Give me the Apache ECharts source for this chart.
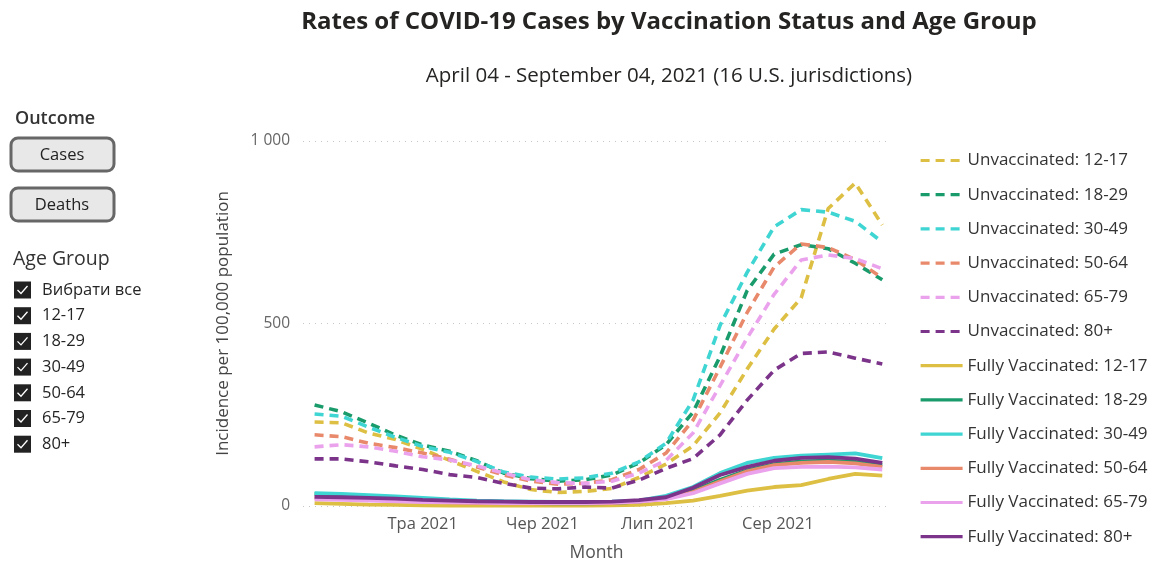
<!DOCTYPE html>
<html>
<head>
<meta charset="utf-8">
<script src="https://cdn.jsdelivr.net/npm/echarts@6/dist/echarts.min.js"></script>
<style>
html,body{margin:0;padding:0;background:#fff;}
#chart{width:1170px;height:578px;}
</style>
</head>
<body>
<div id="chart"></div>
<script>
// ---- data ----
const weeks = ['2021-04-03','2021-04-10','2021-04-17','2021-04-24','2021-05-01','2021-05-08','2021-05-15','2021-05-22','2021-05-29','2021-06-05','2021-06-12','2021-06-19','2021-06-26','2021-07-03','2021-07-10','2021-07-17','2021-07-24','2021-07-31','2021-08-07','2021-08-14','2021-08-21','2021-08-28'];
const ageGroups = ['12-17','18-29','30-49','50-64','65-79','80+'];
const colors = ['#DDBF43','#1A9B6C','#3FD5D3','#E9896B','#EBA2EC','#7B348A'];

const unvac_12_17 = [230,228,200,182,155,125,95,66,45,37,40,48,78,115,165,255,375,485,570,815,885,770];
const unvac_18_29 = [277,258,227,194,167,150,124,90,75,68,72,85,118,168,257,410,590,690,716,705,665,620];
const unvac_30_49 = [252,246,216,188,163,147,122,93,79,74,77,90,121,172,290,495,640,765,812,805,780,723];
const unvac_50_64 = [195,190,172,160,145,128,107,85,68,60,62,72,100,145,235,380,530,655,718,708,675,625];
const unvac_65_79 = [162,168,162,150,135,126,110,90,72,64,62,68,90,125,200,330,460,580,674,688,678,650];
const unvac_80 = [129,129,121,110,100,86,78,62,49,47,52,49,71,103,130,195,290,372,418,422,405,389];

const full_12_17 = [8,6,4,3,2,1,1,1,1,1,1,2,3,8,15,28,42,52,57,74,88,83];
const full_18_29 = [33,30,27,23,18,14,11,9,8,7,7,8,12,22,42,72,98,115,122,124,121,112];
const full_30_49 = [35,33,30,26,22,18,15,13,12,11,11,12,15,28,52,90,118,132,138,141,144,131];
const full_50_64 = [22,20,18,15,12,10,8,7,7,7,7,8,12,20,38,68,95,112,118,121,117,107];
const full_65_79 = [18,17,15,13,11,10,9,8,8,8,8,9,12,19,35,62,88,104,107,108,106,100];
const full_80 = [25,24,22,20,17,15,13,12,11,11,11,12,16,24,50,85,107,124,132,134,130,118];

const unvacSeries = [unvac_12_17,unvac_18_29,unvac_30_49,unvac_50_64,unvac_65_79,unvac_80];
const fullSeries = [full_12_17,full_18_29,full_30_49,full_50_64,full_65_79,full_80];

const monthTicks = ['2021-05-01','2021-06-01','2021-07-01','2021-08-01'];
const monthLabels = ['Тра 2021','Чер 2021','Лип 2021','Сер 2021'];
const yTicks = [0,500,1000];
const checkboxLabels = ['Вибрати все'].concat(ageGroups);

// ---- helpers ----
function ts(s){ const p=s.split('-').map(Number); return Date.UTC(p[0],p[1]-1,p[2]); }
const monthTs = monthTicks.map(ts);
const FONT = '"Open Sans", "Noto Sans", sans-serif';

const series = [];
unvacSeries.forEach((vals,i)=>{
  series.push({
    name:'Unvaccinated: '+ageGroups[i], type:'line', symbol:'none', smooth:false,
    data: weeks.map((w,k)=>[ts(w), vals[k]]),
    lineStyle:{color:colors[i], width:3.6, type:[9,6]},
    itemStyle:{color:colors[i]}, z:3
  });
});
fullSeries.forEach((vals,i)=>{
  series.push({
    name:'Fully Vaccinated: '+ageGroups[i], type:'line', symbol:'none', smooth:false,
    data: weeks.map((w,k)=>[ts(w), vals[k]]),
    lineStyle:{color:colors[i], width:3.8, type:'solid'},
    itemStyle:{color:colors[i]}, z:2
  });
});

// ---- left panel graphics ----
const graphic = [
  {type:'text', left:15, top:110, style:{text:'Outcome', font:'600 18px '+FONT, fill:'#333'}},
  {type:'rect', shape:{x:11,y:138,width:103,height:33,r:7}, style:{fill:'#e8e8e8', stroke:'#676767', lineWidth:3}},
  {type:'text', x:62, y:155, style:{text:'Cases', align:'center', verticalAlign:'middle', font:'16.5px '+FONT, fill:'#222'}},
  {type:'rect', shape:{x:11,y:188,width:103,height:33,r:7}, style:{fill:'#e8e8e8', stroke:'#676767', lineWidth:3}},
  {type:'text', x:62, y:205, style:{text:'Deaths', align:'center', verticalAlign:'middle', font:'16.5px '+FONT, fill:'#222'}},
  {type:'text', left:13, top:249, style:{text:'Age Group', font:'19.5px '+FONT, fill:'#333'}}
];
checkboxLabels.forEach((lab,i)=>{
  const cy = 290 + i*25.7;
  graphic.push({type:'rect', shape:{x:14,y:cy-8.5,width:17,height:17}, style:{fill:'#222'}});
  graphic.push({type:'polyline', shape:{points:[[17.5,cy],[21,cy+3.5],[27.5,cy-4]]}, style:{stroke:'#fff', lineWidth:1.3, fill:null}});
  graphic.push({type:'text', x:42, y:cy, style:{text:lab, verticalAlign:'middle', font:'16.5px '+FONT, fill:'#252525'}});
});

const chart = echarts.init(document.getElementById('chart'), null, {renderer:'canvas'});
chart.setOption({
  animation:false,
  backgroundColor:'#fff',
  textStyle:{fontFamily:FONT},
  title:[
    {text:'Rates of COVID-19 Cases by Vaccination Status and Age Group', left:664, top:5, textAlign:'center',
     textStyle:{fontSize:24, fontWeight:'bold', color:'#252423', fontFamily:FONT}},
    {text:'April 04 - September 04, 2021 (16 U.S. jurisdictions)', left:664, top:61, textAlign:'center',
     textStyle:{fontSize:20.5, fontWeight:'normal', color:'#252423', fontFamily:FONT}}
  ],
  legend:{
    orient:'vertical', left:914, top:147, itemWidth:42, itemHeight:14, itemGap:17.2,
    itemStyle:{opacity:0}, lineStyle:{width:3.2},
    textStyle:{fontSize:17, color:'#333', fontFamily:FONT},
    data: series.map(s=>s.name)
  },
  grid:{left:303, right:280, top:141, bottom:72, containLabel:false},
  xAxis:{
    type:'value', min:ts('2021-03-31'), max:ts('2021-08-30'),
    name:'Month', nameLocation:'middle', nameGap:38,
    nameTextStyle:{fontSize:17.5, color:'#555', fontFamily:FONT},
    axisLine:{show:false}, axisTick:{show:false}, splitLine:{show:false},
    axisLabel:{
      customValues: monthTs, fontSize:16.5, color:'#555', margin:10, fontFamily:FONT,
      formatter:(v)=>{ const i=monthTs.indexOf(v); return i>=0?monthLabels[i]:''; }
    }
  },
  yAxis:{
    type:'value', min:0, max:1000, interval:500,
    name:'Incidence per 100,000 population', nameLocation:'middle', nameGap:71,
    nameTextStyle:{fontSize:17, color:'#444', fontFamily:FONT},
    axisLine:{show:false}, axisTick:{show:false},
    splitLine:{show:true, lineStyle:{color:'#c8c8c8', type:[1,5], width:1}},
    axisLabel:{fontSize:15.5, color:'#666', margin:13, fontFamily:FONT,
      formatter:(v)=> yTicks.indexOf(v)>=0 ? String(v).replace(/\B(?=(\d{3})+(?!\d))/g,' ') : ''}
  },
  graphic: graphic,
  series: series
});
</script>
</body>
</html>
